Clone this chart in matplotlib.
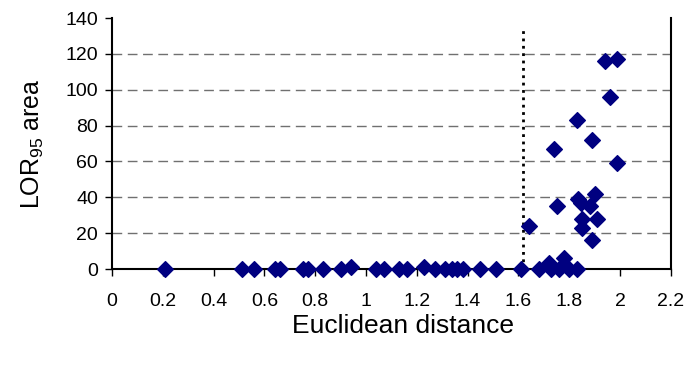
import matplotlib.pyplot as plt

plt.rcParams['font.family'] = ['Liberation Sans', 'DejaVu Sans']
plt.rcParams['mathtext.fontset'] = 'custom'
plt.rcParams['mathtext.rm'] = 'Liberation Sans'
plt.rcParams['mathtext.it'] = 'Liberation Sans'
plt.rcParams['mathtext.default'] = 'regular'

# Euclidean distance vs LOR95 area
distance = [0.21, 0.51, 0.56, 0.64, 0.66, 0.75, 0.77, 0.83, 0.90, 0.94,
            1.04, 1.07, 1.13, 1.16, 1.23, 1.27, 1.31, 1.34, 1.36, 1.38,
            1.45, 1.51, 1.61, 1.68, 1.72, 1.73, 1.76, 1.78, 1.80, 1.83,
            1.64, 1.74, 1.75, 1.83, 1.835, 1.845, 1.85, 1.85, 1.88, 1.89,
            1.90, 1.89, 1.91, 1.94, 1.99, 1.96, 1.99]
lor_area = [0, 0, 0, 0, 0, 0, 0, 0, 0, 1,
            0, 0, 0, 0, 1, 0, 0, 0, 0, 0,
            0, 0, 0, 0, 3.5, 0, 0, 6, 0, 0,
            24, 67, 35, 83, 39, 37, 28, 23, 35, 16,
            42, 72, 28, 116, 117, 96, 59]

threshold = 1.62

fig = plt.figure(figsize=(6.93, 3.69), dpi=100)
ax = fig.add_axes([0.1616, 0.271, 0.8064, 0.68])

for y in range(20, 121, 20):
    ax.axhline(y, color='#707070', linestyle=(0, (7, 4)), linewidth=1, zorder=0)

ax.plot([threshold, threshold], [0, 134], color='black', linestyle=':', linewidth=2, zorder=1)
ax.scatter(distance, lor_area, marker='D', s=64, color='#000080', zorder=3, clip_on=False)

ax.set_xlim(0, 2.2)
ax.set_ylim(0, 140)
ax.set_xticks([0, 0.2, 0.4, 0.6, 0.8, 1, 1.2, 1.4, 1.6, 1.8, 2, 2.2])
ax.set_xticklabels(['0', '0.2', '0.4', '0.6', '0.8', '1', '1.2', '1.4', '1.6', '1.8', '2', '2.2'])
ax.set_yticks(range(0, 141, 20))
ax.tick_params(axis='both', labelsize=14, length=5, width=1, direction='out', pad=5)
ax.tick_params(axis='x', pad=12)

ax.spines['top'].set_visible(False)
for s in ['left', 'bottom', 'right']:
    ax.spines[s].set_linewidth(1.5)
    ax.spines[s].set_color('black')

ax.set_xlabel('Euclidean distance', fontsize=19)
ax.xaxis.set_label_coords(0.52, -0.18)
ax.set_ylabel('LOR$_{95}$ area', fontsize=18, labelpad=14)

fig.savefig('out.png', dpi=100)
